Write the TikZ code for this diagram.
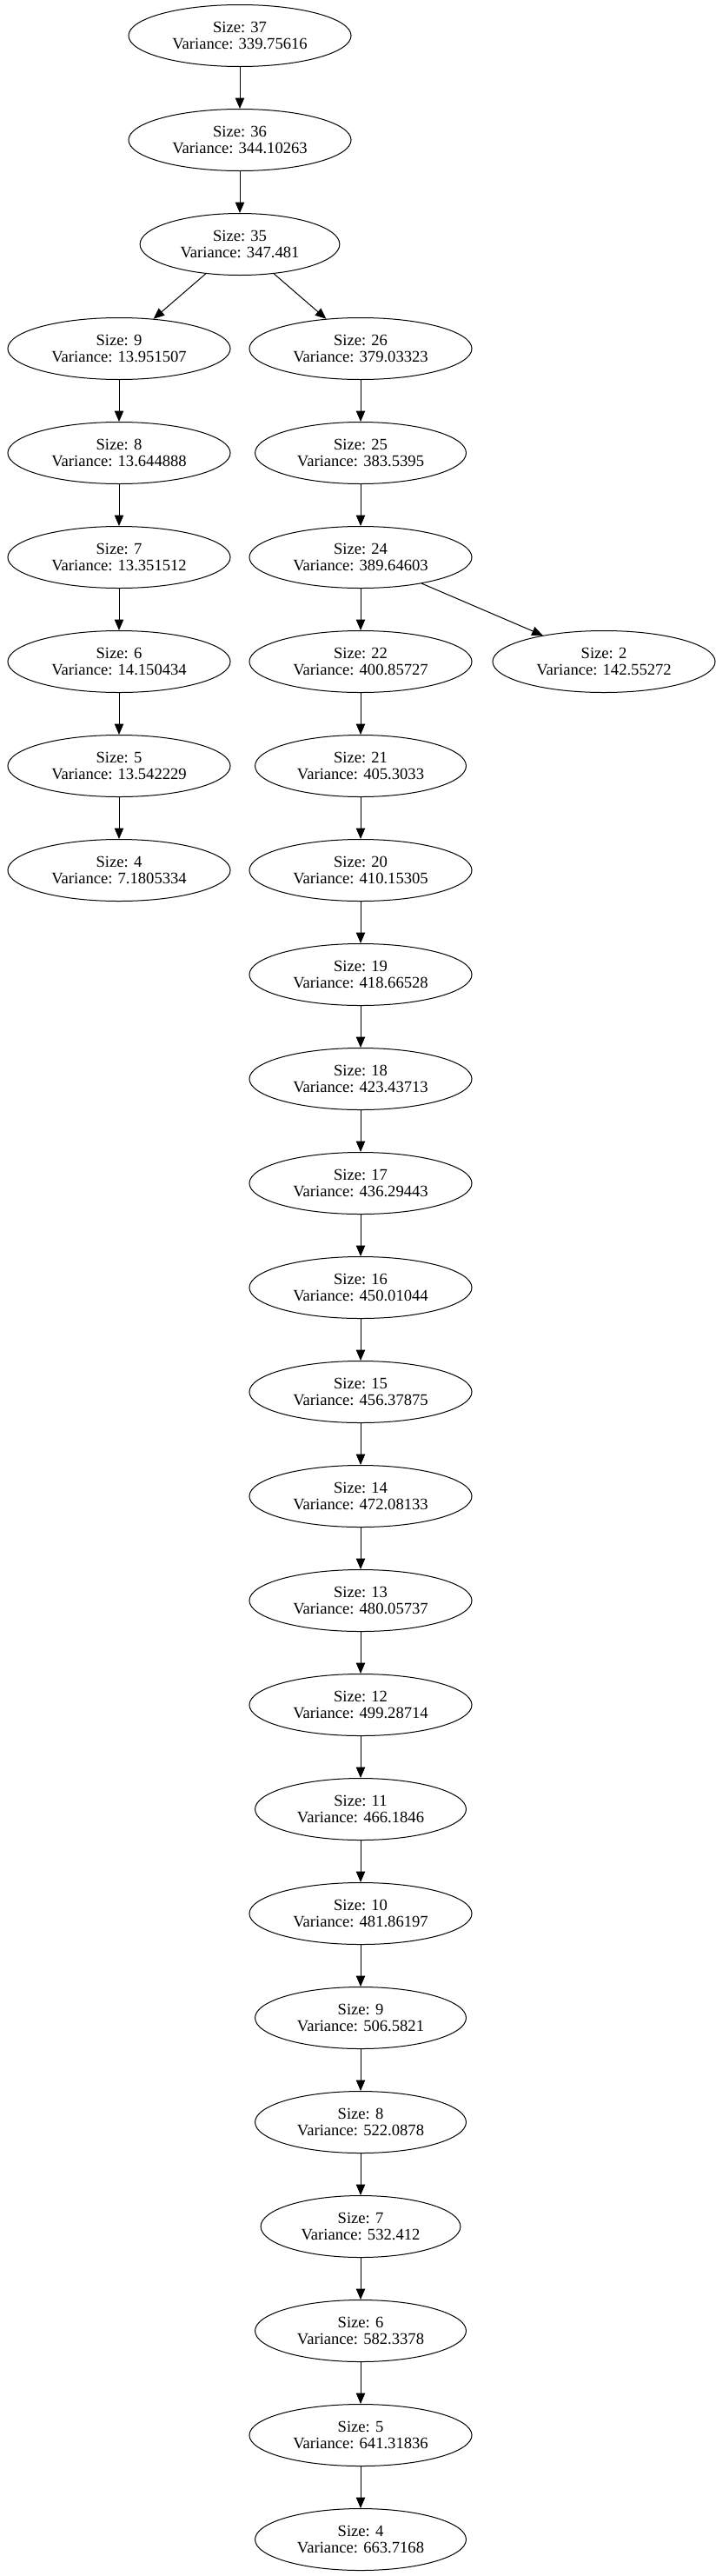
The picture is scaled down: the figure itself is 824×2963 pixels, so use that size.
\documentclass[tikz,border=0pt]{standalone}
\usepackage{fontspec}
\setmainfont{Liberation Serif}
\usetikzlibrary{arrows.meta,shapes.geometric}
\begin{document}
\begin{tikzpicture}[x=1pt,y=-1pt,
  nd/.style={draw, ellipse, line width=1pt, align=center,
    font={\fontsize{18.6}{19.6}\selectfont},
    inner xsep=12.8pt, inner ysep=2pt, minimum height=71pt},
  ar/.style={line width=1pt, -{Triangle[length=12.5pt,width=10.5pt]}}]
\useasboundingbox (0,0) rectangle (824,2963);
\def\L{137}\def\R{415}\def\C{276}
\node[nd] (n37) at (\C,41) {Size: 37\\Variance: 339.75616};
\node[nd] (n36) at (\C,161) {Size: 36\\Variance: 344.10263};
\node[nd] (n35) at (\C,281) {Size: 35\\Variance: 347.481};
\node[nd] (l9) at (\L,401) {Size: 9\\Variance: 13.951507};
\node[nd] (l8) at (\L,521) {Size: 8\\Variance: 13.644888};
\node[nd] (l7) at (\L,641) {Size: 7\\Variance: 13.351512};
\node[nd] (l6) at (\L,761) {Size: 6\\Variance: 14.150434};
\node[nd] (l5) at (\L,881) {Size: 5\\Variance: 13.542229};
\node[nd] (l4) at (\L,1001) {Size: 4\\Variance: 7.1805334};
\node[nd] (r26) at (\R,401) {Size: 26\\Variance: 379.03323};
\node[nd] (r25) at (\R,521) {Size: 25\\Variance: 383.5395};
\node[nd] (r24) at (\R,641) {Size: 24\\Variance: 389.64603};
\node[nd] (n2) at (695,761) {Size: 2\\Variance: 142.55272};
\node[nd] (r22) at (\R,761) {Size: 22\\Variance: 400.85727};
\node[nd] (r21) at (\R,881) {Size: 21\\Variance: 405.3033};
\node[nd] (r20) at (\R,1001) {Size: 20\\Variance: 410.15305};
\node[nd] (r19) at (\R,1121) {Size: 19\\Variance: 418.66528};
\node[nd] (r18) at (\R,1241) {Size: 18\\Variance: 423.43713};
\node[nd] (r17) at (\R,1361) {Size: 17\\Variance: 436.29443};
\node[nd] (r16) at (\R,1481) {Size: 16\\Variance: 450.01044};
\node[nd] (r15) at (\R,1601) {Size: 15\\Variance: 456.37875};
\node[nd] (r14) at (\R,1721) {Size: 14\\Variance: 472.08133};
\node[nd] (r13) at (\R,1841) {Size: 13\\Variance: 480.05737};
\node[nd] (r12) at (\R,1961) {Size: 12\\Variance: 499.28714};
\node[nd] (r11) at (\R,2081) {Size: 11\\Variance: 466.1846};
\node[nd] (r10) at (\R,2201) {Size: 10\\Variance: 481.86197};
\node[nd] (r9) at (\R,2321) {Size: 9\\Variance: 506.5821};
\node[nd] (r8) at (\R,2441) {Size: 8\\Variance: 522.0878};
\node[nd] (r7) at (\R,2561) {Size: 7\\Variance: 532.412};
\node[nd] (r6) at (\R,2681) {Size: 6\\Variance: 582.3378};
\node[nd] (r5) at (\R,2801) {Size: 5\\Variance: 641.31836};
\node[nd] (r4) at (\R,2921) {Size: 4\\Variance: 663.7168};
\draw[ar] (n37) -- (n36);
\draw[ar] (n36) -- (n35);
\draw[ar] (n35) -- (l9);
\draw[ar] (n35) -- (r26);
\draw[ar] (l9) -- (l8);
\draw[ar] (l8) -- (l7);
\draw[ar] (l7) -- (l6);
\draw[ar] (l6) -- (l5);
\draw[ar] (l5) -- (l4);
\draw[ar] (r26) -- (r25);
\draw[ar] (r25) -- (r24);
\draw[ar] (r24) -- (r22);
\draw[ar] (r24) -- (n2);
\draw[ar] (r22) -- (r21);
\draw[ar] (r21) -- (r20);
\draw[ar] (r20) -- (r19);
\draw[ar] (r19) -- (r18);
\draw[ar] (r18) -- (r17);
\draw[ar] (r17) -- (r16);
\draw[ar] (r16) -- (r15);
\draw[ar] (r15) -- (r14);
\draw[ar] (r14) -- (r13);
\draw[ar] (r13) -- (r12);
\draw[ar] (r12) -- (r11);
\draw[ar] (r11) -- (r10);
\draw[ar] (r10) -- (r9);
\draw[ar] (r9) -- (r8);
\draw[ar] (r8) -- (r7);
\draw[ar] (r7) -- (r6);
\draw[ar] (r6) -- (r5);
\draw[ar] (r5) -- (r4);
\end{tikzpicture}
\end{document}
